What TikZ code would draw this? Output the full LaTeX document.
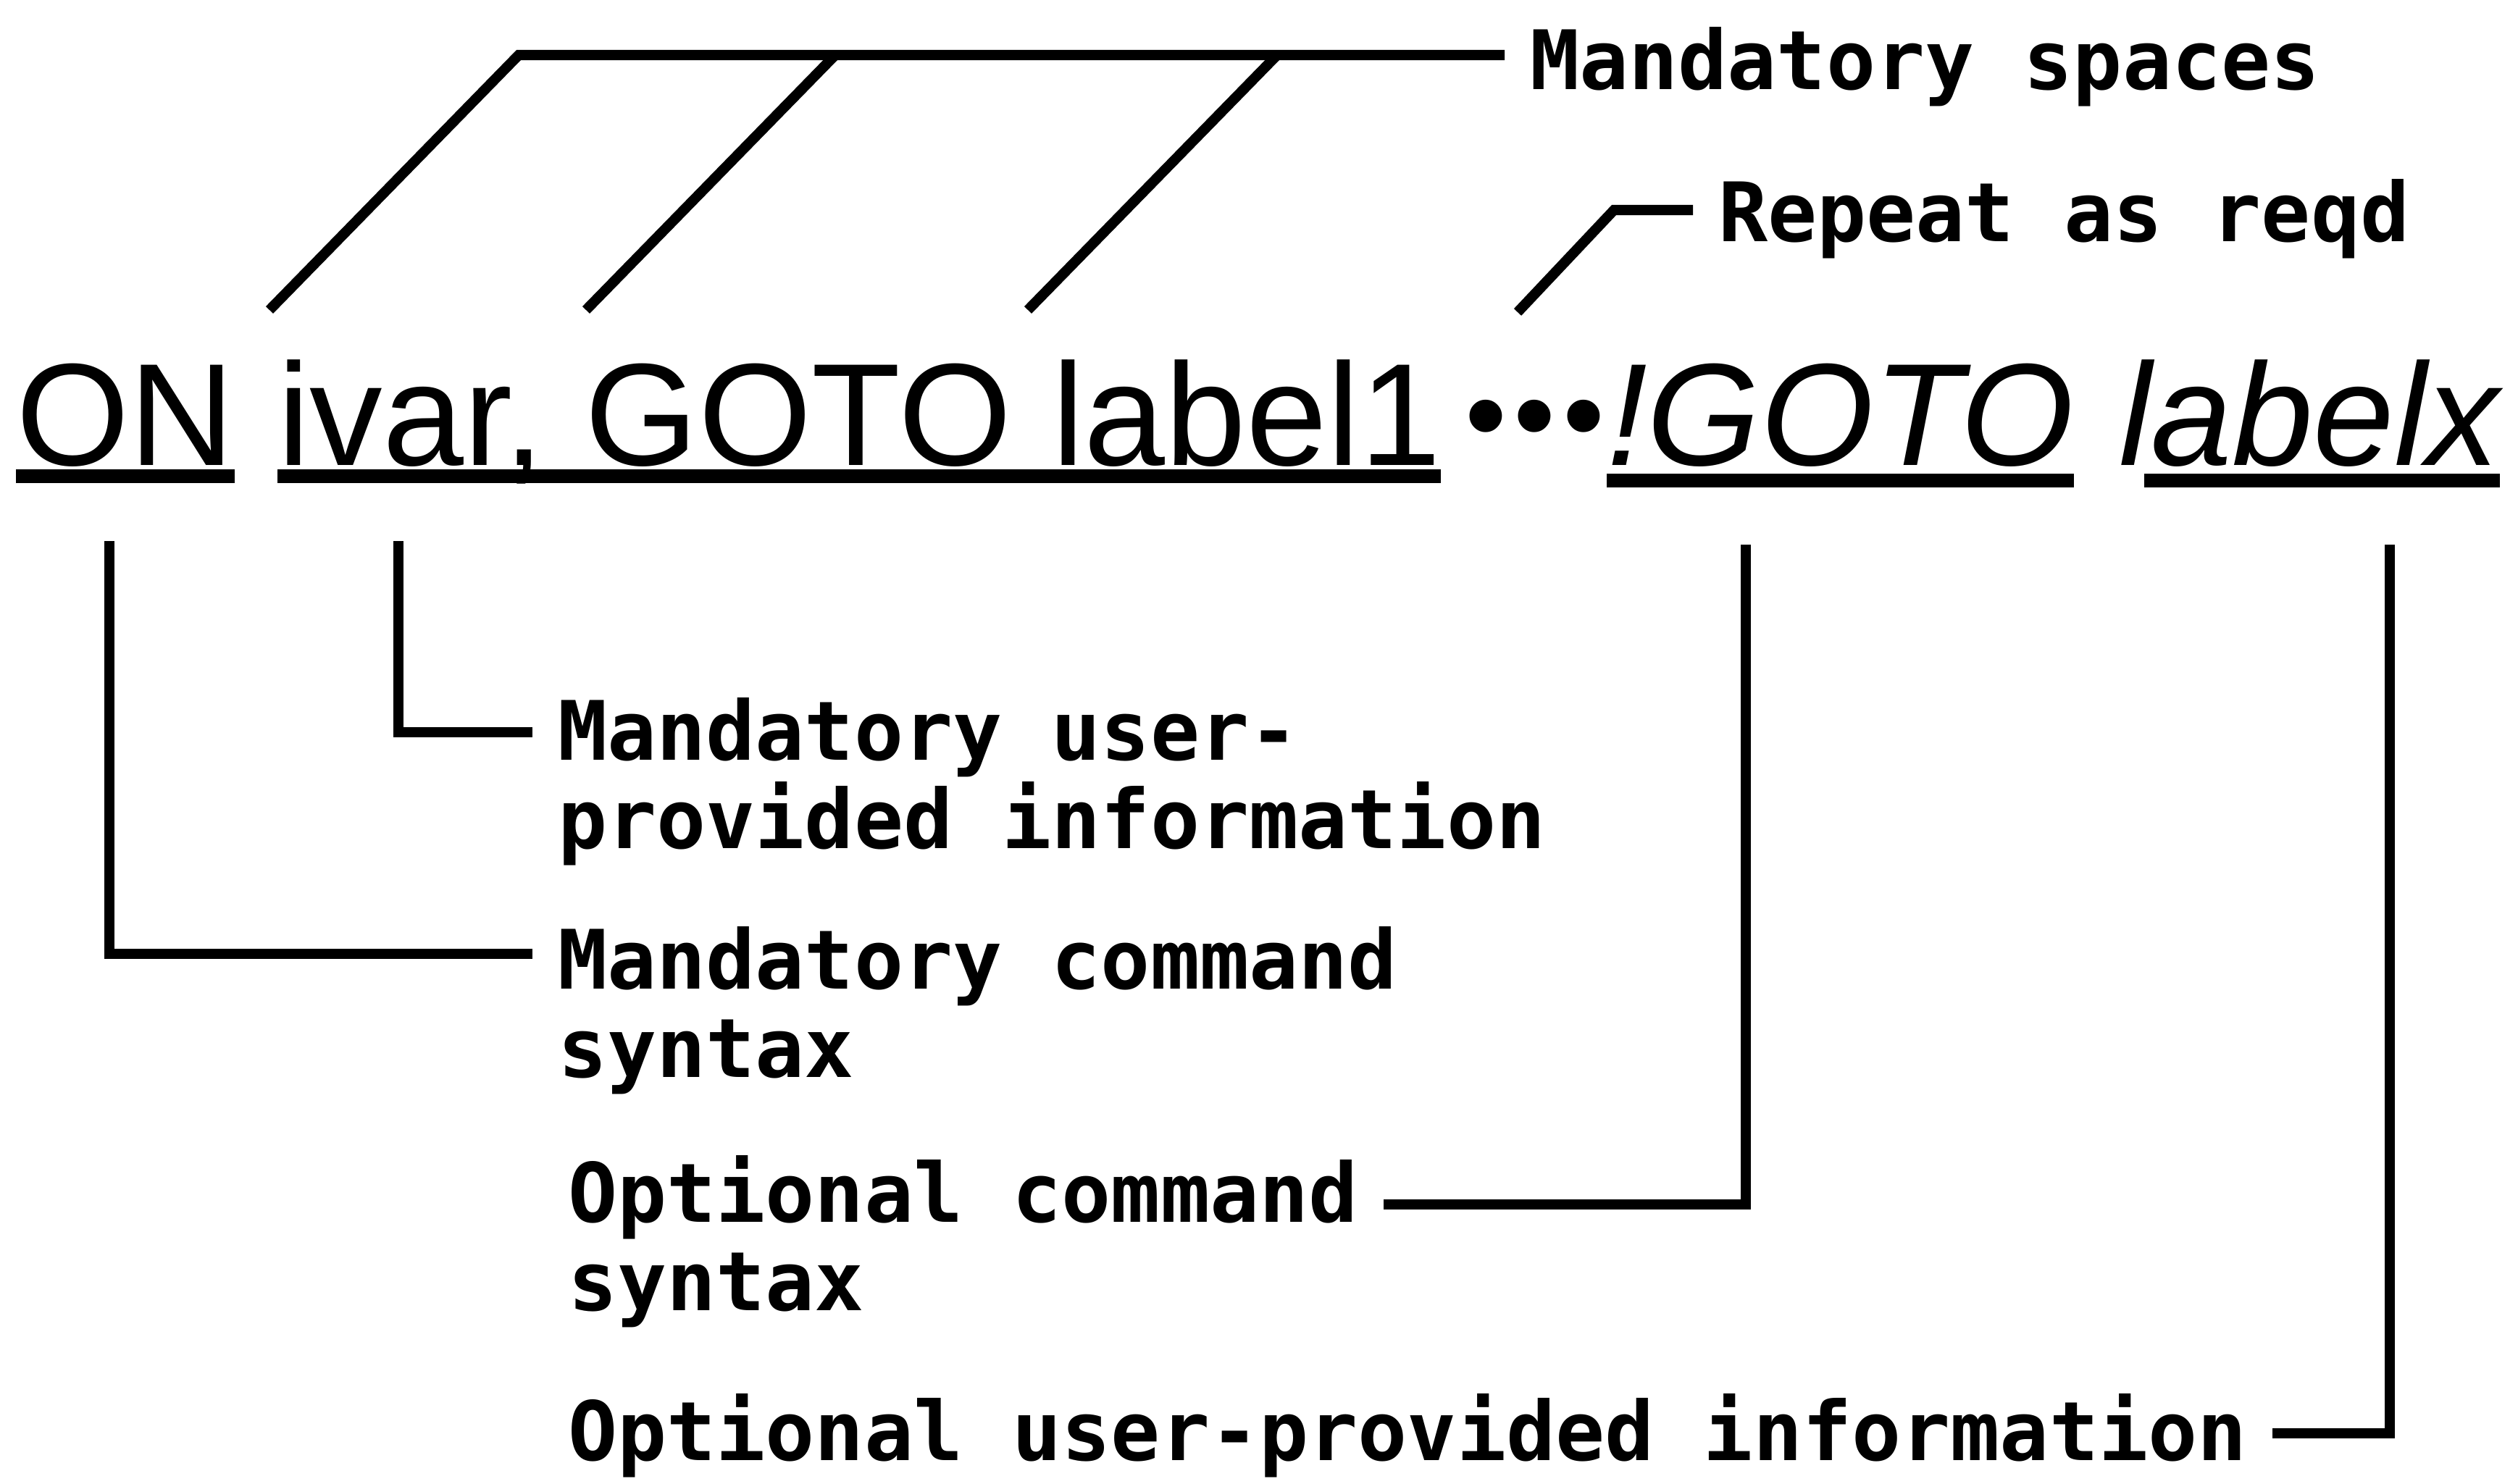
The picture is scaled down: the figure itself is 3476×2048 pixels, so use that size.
\documentclass[tikz,border=0pt]{standalone}
\usepackage{fontspec}
\setmainfont{Liberation Sans}
\newfontfamily\labelfont{DejaVu Sans Mono}
\begin{document}
\begin{tikzpicture}[x=0.01cm, y=-0.01cm,
  every node/.style = {inner sep=0, outer sep=0},
  syntax/.style = {anchor=base west, font=\fontsize{57.2}{60}\selectfont},
  optional/.style = {syntax, font=\fontsize{57.2}{60}\selectfont\itshape},
  note/.style = {anchor=base west, align=left, outer xsep=0.35cm,
    font=\labelfont\bfseries\fontsize{32.2}{34.5}\selectfont},
  lead/.style = {line width=4pt},
  uline/.style = {line width=5.4pt}]
  \useasboundingbox (0,0) rectangle (3476,2048);
  % the statement
  \node[syntax] (on) at (22,642) {ON};
  \node[syntax] (ivar) at (383,642) {ivar, GOTO label1};
  \node[syntax, font=\fontsize{47}{50}\selectfont] (dots) at (2022,629)
    {•\kern0.1cm•\kern0.1cm•};
  \node[optional] (opt) at (2218,642) {!GOTO};
  \node[optional] (lx) at (2925,642) {labelx};
  \draw[uline] ([yshift=-0.15cm]on.base west) -- ([yshift=-0.15cm]on.base east);
  \draw[uline] ([yshift=-0.15cm]ivar.base west) -- ([yshift=-0.15cm]ivar.base east);
  \draw[uline] ([yshift=-0.21cm]opt.base west) -- ([yshift=-0.21cm]opt.base east);
  \draw[uline] ([xshift=0.35cm, yshift=-0.21cm]lx.base west) -- ([yshift=-0.21cm]lx.base east);
  % notes (base is the last line)
  \node[note] (ms) at (2077,123) {Mandatory spaces};
  \node[note] (rep) at (2337,333) {Repeat as reqd};
  \node[note] (mu) at (735,1171) {Mandatory user-\\provided information};
  \node[note] (mc) at (735,1487) {Mandatory command\\syntax};
  \node[note] (oc) at (749,1809) {Optional command\\syntax};
  \node[note] (ou) at (749,2016) {Optional user-provided information};
  % leads above
  \coordinate (sp1) at (372,428);
  \coordinate (sp2) at (809,428);
  \coordinate (sp3) at (1419,428);
  \coordinate (rp) at (2095,431);
  \draw[lead] (sp1) -- ++(344,-352) coordinate (top) -- (top -| ms.west);
  \draw[lead] (sp2) -- ++(344,-352);
  \draw[lead] (sp3) -- ++(344,-352);
  \draw[lead] (rp) -- ++(133,-141) coordinate (rtop) -- (rtop -| rep.west);
  % leads below
  \coordinate (b-on) at (151,747);
  \coordinate (b-ivar) at (550,747);
  \coordinate (b-opt) at (2410,752);
  \coordinate (b-lx) at (3299,752);
  \draw[lead] (b-on) |- ([yshift=1.7cm]mc.base west);
  \draw[lead] (b-ivar) |- ([yshift=1.6cm]mu.base west);
  \draw[lead] (b-opt) |- ([yshift=1.46cm]oc.base east);
  \draw[lead] (b-lx) |- ([yshift=0.37cm]ou.base east);
\end{tikzpicture}
\end{document}
